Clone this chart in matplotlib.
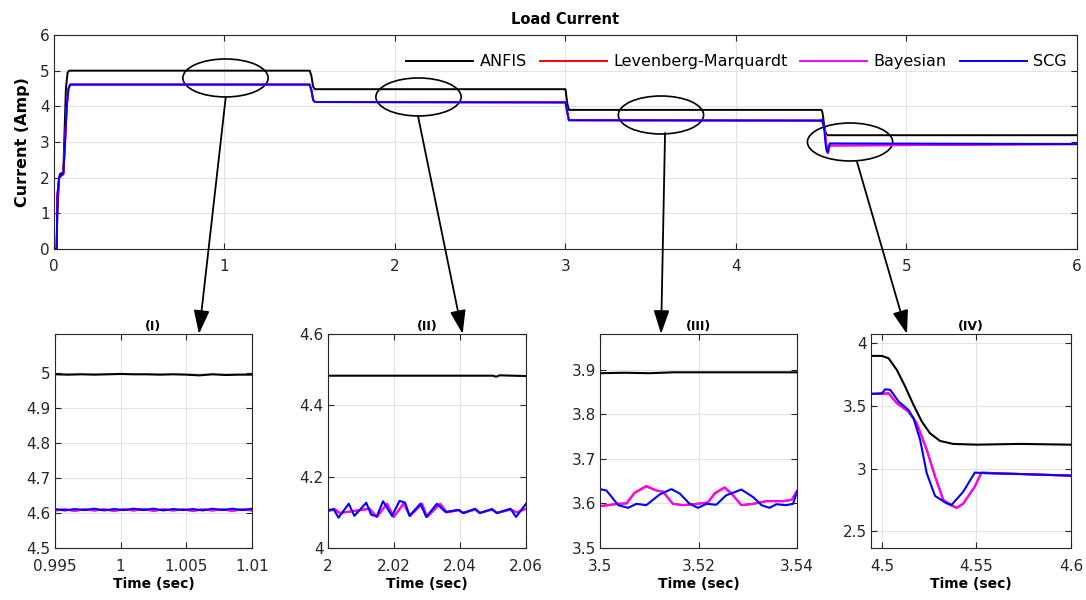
import matplotlib
matplotlib.use('Agg')
import matplotlib.pyplot as plt
from matplotlib.patches import Ellipse, ConnectionPatch
from matplotlib.ticker import FormatStrFormatter

plt.rcParams['font.family'] = ['DejaVu Sans']

# ---- main plot (0..6 s) ----
t_anfis = [0, 0.015, 0.02, 0.03, 0.035, 0.055, 0.06, 0.07, 0.08, 0.09,
           1.50, 1.51, 1.52, 1.53, 3.00, 3.01, 3.02,
           4.50, 4.505, 4.51, 4.515, 4.52, 4.525, 4.53, 4.54, 4.55, 6.0]
i_anfis = [0, 0, 1.0, 2.0, 2.1, 2.15, 3.0, 4.5, 4.95, 5.0,
           5.0, 4.85, 4.55, 4.48, 4.48, 4.1, 3.9,
           3.9, 3.87, 3.74, 3.55, 3.38, 3.28, 3.22, 3.19, 3.19, 3.19]

t_rest = [0, 0.016, 0.02, 0.03, 0.04, 0.055, 0.065, 0.075, 0.085, 0.095,
          1.50, 1.51, 1.52, 1.53, 3.00, 3.01, 3.02,
          4.50, 4.505, 4.51, 4.515, 4.52, 4.525, 4.53, 4.537, 4.54, 4.55, 6.0]
i_lm = [0, 0, 1.5, 2.0, 2.05, 2.1, 3.0, 4.0, 4.5, 4.61,
        4.61, 4.45, 4.18, 4.12, 4.11, 3.85, 3.61,
        3.60, 3.60, 3.52, 3.45, 3.36, 3.15, 2.94, 2.71, 2.69, 2.90, 2.94]
i_bayes = [0, 0, 1.5, 2.0, 2.05, 2.1, 3.0, 4.0, 4.5, 4.61,
           4.61, 4.45, 4.18, 4.12, 4.11, 3.85, 3.61,
           3.60, 3.60, 3.52, 3.45, 3.36, 3.15, 2.94, 2.71, 2.69, 2.90, 2.94]
i_scg = [0, 0, 1.5, 2.0, 2.05, 2.1, 3.0, 4.0, 4.5, 4.61,
         4.61, 4.45, 4.18, 4.12, 4.11, 3.85, 3.61,
         3.60, 3.63, 3.53, 3.46, 3.23, 2.96, 2.78, 2.71, 2.78, 2.96, 2.94]

# ---- zoom (I) ----
t1_anfis = [0.995, 0.996, 0.997, 0.998, 0.999, 1.000, 1.001, 1.002,
            1.003, 1.004, 1.005, 1.006, 1.007, 1.008, 1.009, 1.010]
anfis1 = [4.995, 4.994, 4.995, 4.994, 4.995, 4.996, 4.995, 4.995,
          4.994, 4.995, 4.994, 4.992, 4.995, 4.993, 4.994, 4.994]
t1 = [0.995, 0.99575, 0.9965, 0.99725, 0.998, 0.99875, 0.9995, 1.00025,
      1.001, 1.00175, 1.0025, 1.00325, 1.004, 1.00475, 1.0055, 1.00625,
      1.007, 1.00775, 1.0085, 1.00925, 1.010]
lm1 = [4.607, 4.610, 4.606, 4.610, 4.607, 4.610, 4.606, 4.610, 4.607, 4.611,
       4.606, 4.610, 4.607, 4.610, 4.606, 4.610, 4.607, 4.610, 4.606, 4.610, 4.607]
bayes1 = [4.607, 4.610, 4.606, 4.610, 4.607, 4.610, 4.606, 4.610, 4.607, 4.611,
          4.606, 4.610, 4.607, 4.610, 4.606, 4.610, 4.607, 4.610, 4.606, 4.610, 4.607]
scg1 = [4.611, 4.607, 4.611, 4.608, 4.612, 4.607, 4.611, 4.608, 4.612, 4.608,
        4.612, 4.607, 4.611, 4.608, 4.611, 4.607, 4.612, 4.608, 4.612, 4.608, 4.612]

# ---- zoom (II) ----
t2_anfis = [2.0, 2.02, 2.04, 2.050, 2.051, 2.052, 2.06]
anfis2 = [4.483, 4.483, 4.483, 4.483, 4.480, 4.484, 4.482]
t2_scg = [2.0, 2.0017, 2.0032, 2.0063, 2.008, 2.0116, 2.0131, 2.0148, 2.0167,
          2.0194, 2.0217, 2.0234, 2.0247, 2.028, 2.0298, 2.033, 2.0356, 2.0396,
          2.041, 2.0446, 2.046, 2.0497, 2.0512, 2.0553, 2.057, 2.06]
scg2 = [4.106, 4.109, 4.085, 4.124, 4.090, 4.127, 4.093, 4.089, 4.131,
        4.090, 4.132, 4.127, 4.090, 4.124, 4.087, 4.124, 4.101, 4.107,
        4.098, 4.110, 4.098, 4.109, 4.098, 4.110, 4.087, 4.124]
t2_bayes = [2.0, 2.0022, 2.0035, 2.0088, 2.0126, 2.0148, 2.0179, 2.0199, 2.0229,
            2.0249, 2.0285, 2.030, 2.034, 2.036, 2.0396, 2.041, 2.0446, 2.046,
            2.0497, 2.0512, 2.0553, 2.0572, 2.06]
bayes2 = [4.104, 4.108, 4.098, 4.105, 4.110, 4.087, 4.124, 4.087, 4.124,
          4.090, 4.124, 4.087, 4.124, 4.100, 4.106, 4.098, 4.108, 4.098,
          4.108, 4.098, 4.108, 4.100, 4.110]
lm2 = [4.104, 4.108, 4.098, 4.105, 4.110, 4.087, 4.124, 4.087, 4.124,
       4.090, 4.124, 4.087, 4.124, 4.100, 4.106, 4.098, 4.108, 4.098,
       4.108, 4.098, 4.108, 4.100, 4.110]

# ---- zoom (III) ----
t3_anfis = [3.5, 3.505, 3.51, 3.515, 3.52, 3.53, 3.54]
anfis3 = [3.892, 3.893, 3.892, 3.894, 3.894, 3.894, 3.894]
t3_scg = [3.5, 3.5013, 3.5037, 3.5057, 3.5074, 3.5094, 3.5121, 3.5145, 3.5162,
          3.5182, 3.5199, 3.5216, 3.5236, 3.5256, 3.5287, 3.5311, 3.5328, 3.5344,
          3.5358, 3.5378, 3.5392, 3.54]
scg3 = [3.632, 3.629, 3.596, 3.590, 3.599, 3.596, 3.620, 3.632, 3.622,
        3.599, 3.590, 3.599, 3.597, 3.618, 3.631, 3.614, 3.596, 3.590,
        3.598, 3.596, 3.599, 3.626]
t3_bayes = [3.5, 3.5016, 3.5037, 3.5054, 3.5070, 3.5094, 3.5114, 3.5128, 3.5148,
            3.5169, 3.5196, 3.5219, 3.5233, 3.5253, 3.5267, 3.5287, 3.5311, 3.5338,
            3.5372, 3.5389, 3.54]
bayes3 = [3.594, 3.596, 3.599, 3.600, 3.623, 3.638, 3.629, 3.626, 3.599,
          3.596, 3.599, 3.602, 3.622, 3.635, 3.622, 3.596, 3.599, 3.605,
          3.605, 3.608, 3.628]
lm3 = [3.594, 3.596, 3.599, 3.600, 3.624, 3.639, 3.629, 3.626, 3.599,
       3.596, 3.599, 3.602, 3.623, 3.636, 3.622, 3.596, 3.599, 3.605,
       3.605, 3.608, 3.628]

# ---- zoom (IV) ----
t4_anfis = [4.494, 4.5, 4.5035, 4.5079, 4.5123, 4.5167, 4.5211, 4.5254,
            4.5307, 4.5377, 4.55, 4.5728, 4.6]
anfis4 = [3.899, 3.899, 3.88, 3.787, 3.654, 3.508, 3.375, 3.282,
          3.221, 3.197, 3.191, 3.197, 3.191]
t4_scg = [4.494, 4.5, 4.5018, 4.5044, 4.5088, 4.514, 4.5167, 4.5202, 4.5237,
          4.5281, 4.5342, 4.5368, 4.543, 4.5491, 4.5553, 4.5728, 4.6]
scg4 = [3.596, 3.601, 3.633, 3.628, 3.535, 3.468, 3.402, 3.229, 2.963,
        2.782, 2.723, 2.710, 2.816, 2.968, 2.963, 2.957, 2.944]
t4_bayes = [4.494, 4.5, 4.5035, 4.5079, 4.514, 4.5184, 4.5237, 4.5281, 4.5325,
            4.5368, 4.5395, 4.543, 4.5491, 4.5526, 4.5588, 4.5728, 4.6]
bayes4 = [3.596, 3.596, 3.601, 3.521, 3.455, 3.362, 3.150, 2.937, 2.750,
          2.710, 2.689, 2.723, 2.856, 2.968, 2.963, 2.957, 2.944]
lm4 = [3.596, 3.596, 3.601, 3.521, 3.455, 3.362, 3.150, 2.937, 2.745,
       2.705, 2.686, 2.720, 2.856, 2.968, 2.965, 2.957, 2.944]

c_anfis, c_lm, c_bayes, c_scg = '#000000', '#ff0000', '#ff00ff', '#0000ff'
tick_col = '#262626'


def style_axes(a, fs=10.5, xpad=7):
    a.grid(True, color='#e3e3e3', lw=0.8)
    a.set_axisbelow(True)
    a.tick_params(direction='in', top=True, right=True, length=4,
                  labelsize=fs, colors=tick_col, pad=3)
    a.tick_params(axis='x', pad=xpad)
    for s in a.spines.values():
        s.set_color(tick_col)
        s.set_linewidth(0.8)


fig = plt.figure(figsize=(10.86, 6), dpi=100)

# main axes
ax = fig.add_axes([0.0497, 0.585, 0.942, 0.3567])
ax.plot(t_anfis, i_anfis, color=c_anfis, lw=1.4, label='ANFIS')
ax.plot(t_rest, i_lm, color=c_lm, lw=1.4, label='Levenberg-Marquardt')
ax.plot(t_rest, i_bayes, color=c_bayes, lw=1.4, label='Bayesian')
ax.plot(t_rest, i_scg, color=c_scg, lw=1.4, label='SCG')
ax.set_xlim(0, 6)
ax.set_ylim(0, 6)
ax.set_xticks(range(7))
ax.set_yticks(range(7))
style_axes(ax, 11, xpad=7)
ax.set_title('Load Current', fontweight='bold', fontsize=10.5, pad=8)
ax.set_ylabel('Current (Amp)', fontweight='bold', fontsize=11.5, labelpad=7)
ax.legend(ncol=4, frameon=False, loc='center right', bbox_to_anchor=(0.99, 0.874),
          fontsize=11.5, handlelength=4.2, handletextpad=0.4, columnspacing=0.8,
          borderpad=0, borderaxespad=0)

# ellipses on main axes
ell_centers = [(1.006, 4.795), (2.138, 4.262), (3.56, 3.757), (4.669, 3.0)]
for cx, cy in ell_centers:
    ax.add_patch(Ellipse((cx, cy), 0.5, 1.065, fill=False, ec='k', lw=1.2))

# zoom axes
rects = [[0.0506, 0.0867, 0.1814, 0.3567],
         [0.302, 0.0867, 0.1823, 0.3567],
         [0.5525, 0.0867, 0.1814, 0.3567],
         [0.802, 0.0867, 0.1842, 0.3567]]
titles = ['(I)', '(II)', '(III)', '(IV)']
panels = [
    (t1_anfis, anfis1, t1, lm1, t1, bayes1, t1, scg1),
    (t2_anfis, anfis2, t2_bayes, lm2, t2_bayes, bayes2, t2_scg, scg2),
    (t3_anfis, anfis3, t3_bayes, lm3, t3_bayes, bayes3, t3_scg, scg3),
    (t4_anfis, anfis4, t4_bayes, lm4, t4_bayes, bayes4, t4_scg, scg4),
]
xlims = [(0.995, 1.01), (2.0, 2.06), (3.5, 3.54), (4.4942, 4.6)]
ylims = [(4.5, 5.11), (4.0, 4.6), (3.5, 3.98), (2.367, 4.074)]
xticks = [[0.995, 1.0, 1.005, 1.01], [2.0, 2.02, 2.04, 2.06],
          [3.5, 3.52, 3.54], [4.5, 4.55, 4.6]]
yticks = [[4.5, 4.6, 4.7, 4.8, 4.9, 5.0], [4.0, 4.2, 4.4, 4.6],
          [3.5, 3.6, 3.7, 3.8, 3.9], [2.5, 3.0, 3.5, 4.0]]

# arrow start (main data coords) and end (fraction of zoom axes width)
arrow_starts = [(1.007, 4.24), (2.135, 3.73), (3.584, 3.253), (4.71, 2.44)]
arrow_ends = [0.731, 0.68, 0.31, 0.18]

for k in range(4):
    a = fig.add_axes(rects[k])
    ta, ya, tl, yl, tb, yb, ts, ys = panels[k]
    a.plot(ta, ya, color=c_anfis, lw=1.5)
    a.plot(tl, yl, color=c_lm, lw=1.5)
    a.plot(tb, yb, color=c_bayes, lw=1.5)
    a.plot(ts, ys, color=c_scg, lw=1.5)
    a.set_xlim(*xlims[k])
    a.set_ylim(*ylims[k])
    a.set_xticks(xticks[k])
    a.set_yticks(yticks[k])
    a.xaxis.set_major_formatter(FormatStrFormatter('%g'))
    a.yaxis.set_major_formatter(FormatStrFormatter('%g'))
    style_axes(a, 11, xpad=8)
    a.set_title(titles[k], fontweight='bold', fontsize=9, pad=3)
    a.set_xlabel('Time (sec)', fontweight='bold', fontsize=10, labelpad=2)

    con = ConnectionPatch(xyA=arrow_starts[k], coordsA=ax.transData,
                          xyB=(arrow_ends[k], 1.0), coordsB=a.transAxes,
                          arrowstyle='-|>,head_length=0.9,head_width=0.3',
                          mutation_scale=16, lw=1.3, color='k')
    fig.add_artist(con)

fig.savefig('out.png', dpi=100)
